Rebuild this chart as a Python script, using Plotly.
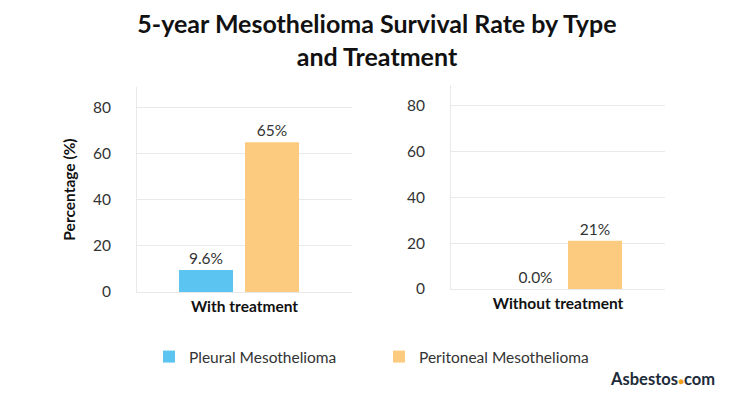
import plotly.graph_objects as go

# ---- data ----
series_names = ["Pleural Mesothelioma", "Peritoneal Mesothelioma"]
panel_categories = ["With treatment", "Without treatment"]
pleural_values = [9.6, 0.0]
peritoneal_values = [65, 21]
y_tick_values = [0, 20, 40, 60, 80]
y_tick_labels = ["0", "20", "40", "60", "80"]

# ---- styles ----
W, H = 736, 396
SX, SY = 8, 8  # page body offset compensation
BLUE = "#5bc4f1"
ORANGE = "#fdcb7f"
GRID = "#e9e9e9"
TXT = "#333333"
FONT = "Lato"

# pixel geometry of the two panels (left, right, top, bottom) in screen pixels
panels = [(137, 352, 87, 292), (451, 665, 85, 289)]
# bar offsets/widths (in category units, relative to category centre)
bar_geom = [
    [(-0.3047, 0.2512), (0.0023, 0.2512)],
    [(-0.2336, 0.2570), (0.0467, 0.2523)],
]

fig = go.Figure()
series_vals = [pleural_values, peritoneal_values]
colors = [BLUE, ORANGE]
fmts = ["%{y:.1f}%", "%{y:.0f}%"]
for p in range(2):
    xa = "x" if p == 0 else "x2"
    ya = "y" if p == 0 else "y2"
    for s in range(2):
        off, wid = bar_geom[p][s]
        fig.add_trace(go.Bar(
            x=[panel_categories[p]], y=[series_vals[s][p]],
            name=series_names[s], legendgroup=series_names[s],
            showlegend=(p == 0),
            marker=dict(color=colors[s], line=dict(width=0)),
            offset=off, width=wid,
            texttemplate=fmts[s], textposition="outside",
            textfont=dict(family=FONT, size=15.5, color=TXT),
            cliponaxis=False,
            xaxis=xa, yaxis=ya,
        ))

def xdom(p):
    return [(p[0] - SX) / W, (p[1] - SX) / W]

def ydom(p):
    return [1 - (p[3] - SY) / H, 1 - (p[2] - SY) / H]

yaxis_common = dict(
    range=[0, 89], tickvals=y_tick_values, ticktext=y_tick_labels,
    showgrid=True, gridcolor=GRID, gridwidth=1,
    showline=True, linecolor=GRID, linewidth=1,
    zeroline=False, ticks="", ticklabelstandoff=22, automargin=False,
    tickfont=dict(family=FONT, size=15.5, color=TXT),
)
xaxis_common = dict(
    type="category", range=[-0.5, 0.5],
    showgrid=False, showline=True, linecolor=GRID, linewidth=1,
    ticks="", ticklabelstandoff=0, automargin=False,
    tickfont=dict(family=FONT, size=15.5, color="#111111", weight="bold"),
)

fig.update_layout(
    width=W, height=H,
    margin=dict(l=0, r=0, t=0, b=0),
    paper_bgcolor="white", plot_bgcolor="white",
    barmode="overlay",
    font=dict(family=FONT, color=TXT),
    title=dict(
        text="5-year Mesothelioma Survival Rate by Type<br>and Treatment",
        x=(377 - SX) / W, xanchor="center", y=1 - 25 / H, yanchor="top",
        yref="container",
        font=dict(family=FONT, size=25, color="#111111", weight="bold"),
    ),
    xaxis=dict(domain=xdom(panels[0]), anchor="y", **xaxis_common),
    yaxis=dict(domain=ydom(panels[0]), anchor="x",
               title=dict(text="Percentage (%)", standoff=13,
                          font=dict(family=FONT, size=15.5, color="#111111", weight="bold")),
               **yaxis_common),
    xaxis2=dict(domain=xdom(panels[1]), anchor="y2", **xaxis_common),
    yaxis2=dict(domain=ydom(panels[1]), anchor="x2", **yaxis_common),
    legend=dict(
        orientation="h", x=141 / W, xanchor="left", y=1 - 349 / H, yanchor="middle",
        entrywidth=185, entrywidthmode="pixels",
        font=dict(family=FONT, size=15.5, color=TXT),
        bgcolor="rgba(0,0,0,0)",
    ),
    annotations=[dict(
        text="<b>Asbestos</b><span style='color:#f5a21b;font-size:10px'>●</span><b>com</b>",
        x=709 / W, xref="paper", xanchor="right",
        y=1 - 371 / H, yref="paper", yanchor="middle",
        showarrow=False, font=dict(family=FONT, size=16.5, color="#1d2b3a"),
    )],
)

fig.write_html("out.html")
